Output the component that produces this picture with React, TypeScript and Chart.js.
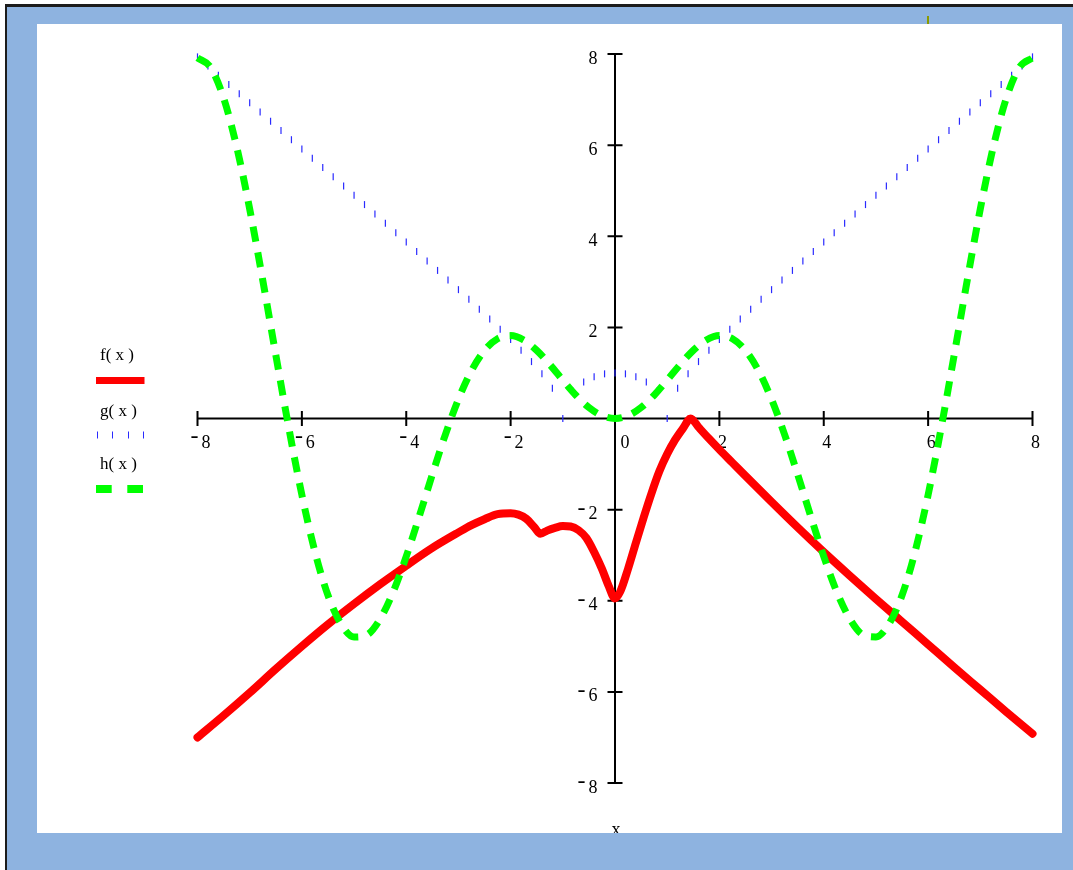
import React, { useEffect, useRef } from "react";
import { Chart, registerables } from "chart.js";

Chart.register(...registerables);

// ---- tick values / labels ----
const X_TICKS = [-8, -6, -4, -2, 0, 2, 4, 6, 8];
const X_TICK_LABELS = ["-8", "-6", "-4", "-2", "0", "2", "4", "6", "8"];
const Y_TICKS = [-8, -6, -4, -2, 2, 4, 6, 8];
const Y_TICK_LABELS = ["-8", "-6", "-4", "-2", "2", "4", "6", "8"];
const SERIES_LABELS = ["f( x )", "g( x )", "h( x )"];
const AXIS_TITLE = "x";

// ---- f(x): red solid ----
const F_X = [
  -8, -7.5, -7, -6.5, -6, -5.5, -5, -4.5, -4, -3.5, -3, -2.75, -2.5, -2.25, -2,
  -1.85, -1.7, -1.55, -1.43, -1.3, -1.15, -1, -0.85, -0.7, -0.55, -0.4, -0.25,
  -0.12, 0, 0.1, 0.25, 0.4, 0.55, 0.7, 0.85, 1, 1.15, 1.3, 1.45, 1.6, 1.8, 2,
  2.25, 2.5, 3, 3.5, 4, 4.5, 5, 5.5, 6, 6.5, 7, 7.5, 8,
];
const F_Y = [
  -7.0, -6.52, -6.02, -5.5, -5.0, -4.52, -4.07, -3.64, -3.23, -2.84, -2.5,
  -2.34, -2.21, -2.1, -2.08, -2.11, -2.2, -2.38, -2.53, -2.46, -2.4, -2.36,
  -2.37, -2.45, -2.62, -2.93, -3.3, -3.68, -3.95, -3.8, -3.3, -2.73, -2.17,
  -1.64, -1.16, -0.78, -0.47, -0.22, 0.0, -0.19, -0.44, -0.68, -0.97, -1.26,
  -1.83, -2.39, -2.93, -3.45, -3.96, -4.46, -4.96, -5.46, -5.95, -6.44, -6.92,
];

// ---- g(x): blue dotted ----
const G_X = [
  -8, -7.8, -7.6, -7.4, -7.2, -7, -6.8, -6.6, -6.4, -6.2, -6, -5.8, -5.6, -5.4,
  -5.2, -5, -4.8, -4.6, -4.4, -4.2, -4, -3.8, -3.6, -3.4, -3.2, -3, -2.8, -2.6,
  -2.4, -2.2, -2, -1.8, -1.6, -1.4, -1.2, -1, -0.8, -0.6, -0.4, -0.2, 0, 0.2,
  0.4, 0.6, 0.8, 1, 1.2, 1.4, 1.6, 1.8, 2, 2.2, 2.4, 2.6, 2.8, 3, 3.2, 3.4, 3.6,
  3.8, 4, 4.2, 4.4, 4.6, 4.8, 5, 5.2, 5.4, 5.6, 5.8, 6, 6.2, 6.4, 6.6, 6.8, 7,
  7.2, 7.4, 7.6, 7.8, 8,
];
const G_Y = [
  7.937, 7.736, 7.534, 7.332, 7.13, 6.928, 6.726, 6.524, 6.321, 6.119, 5.916,
  5.713, 5.51, 5.307, 5.103, 4.899, 4.695, 4.49, 4.285, 4.079, 3.873, 3.666,
  3.458, 3.25, 3.04, 2.828, 2.615, 2.4, 2.182, 1.96, 1.732, 1.497, 1.249, 0.98,
  0.663, 0, 0.6, 0.8, 0.917, 0.98, 1.0, 0.98, 0.917, 0.8, 0.6, 0, 0.663, 0.98,
  1.249, 1.497, 1.732, 1.96, 2.182, 2.4, 2.615, 2.828, 3.04, 3.25, 3.458, 3.666,
  3.873, 4.079, 4.285, 4.49, 4.695, 4.899, 5.103, 5.307, 5.51, 5.713, 5.916,
  6.119, 6.321, 6.524, 6.726, 6.928, 7.13, 7.332, 7.534, 7.736, 7.937,
];

// ---- h(x): green dashed ----
const H_X = [
  -8, -7.75, -7.5, -7.25, -7, -6.75, -6.5, -6.25, -6, -5.75, -5.5, -5.25, -5,
  -4.75, -4.5, -4.25, -4, -3.75, -3.5, -3.25, -3, -2.75, -2.5, -2.25, -2, -1.75,
  -1.5, -1.25, -1, -0.75, -0.5, -0.25, 0, 0.25, 0.5, 0.75, 1, 1.25, 1.5, 1.75, 2,
  2.25, 2.5, 2.75, 3, 3.25, 3.5, 3.75, 4, 4.25, 4.5, 4.75, 5, 5.25, 5.5, 5.75, 6,
  6.25, 6.5, 6.75, 7, 7.25, 7.5, 7.75, 8,
];
const H_Y = [
  7.915, 7.708, 7.035, 5.967, 4.599, 3.038, 1.398, -0.208, -1.676, -2.923,
  -3.88, -4.509, -4.795, -4.747, -4.399, -3.804, -3.027, -2.144, -1.228, -0.352,
  0.423, 1.05, 1.496, 1.751, 1.819, 1.722, 1.496, 1.186, 0.841, 0.511, 0.24,
  0.062, 0, 0.062, 0.24, 0.511, 0.841, 1.186, 1.496, 1.722, 1.819, 1.751, 1.496,
  1.05, 0.423, -0.352, -1.228, -2.144, -3.027, -3.804, -4.399, -4.747, -4.795,
  -4.509, -3.88, -2.923, -1.676, -0.208, 1.398, 3.038, 4.599, 5.967, 7.035,
  7.708, 7.915,
];

const RED = "#ff0000";
const BLUE = "#2a2aff";
const GREEN = "#00ff00";
const FONT = '18px "Liberation Serif", "Times New Roman", serif';
const MINUS_FONT = '24px "Liberation Serif", "Times New Roman", serif';
const LEGEND_FONT = '17px "Liberation Serif", "Times New Roman", serif';
const MINUS_GAP = 3;

function labelWidth(ctx: CanvasRenderingContext2D, label: string): number {
  if (label.startsWith("-")) {
    ctx.font = MINUS_FONT;
    const wm = ctx.measureText("-").width;
    ctx.font = FONT;
    return wm + MINUS_GAP + ctx.measureText(label.slice(1)).width;
  }
  ctx.font = FONT;
  return ctx.measureText(label).width;
}

function drawLabel(ctx: CanvasRenderingContext2D, label: string, left: number, baseline: number) {
  if (label.startsWith("-")) {
    ctx.font = MINUS_FONT;
    ctx.fillText("-", left, baseline - 4.5);
    const wm = ctx.measureText("-").width;
    ctx.font = FONT;
    ctx.fillText(label.slice(1), left + wm + MINUS_GAP, baseline);
  } else {
    ctx.font = FONT;
    ctx.fillText(label, left, baseline);
  }
}

const axesPlugin = {
  id: "mathcadAxes",
  beforeDatasetsDraw(chart: any) {
    const ctx: CanvasRenderingContext2D = chart.ctx;
    const xs = chart.scales.x;
    const ys = chart.scales.y;
    const x0 = xs.getPixelForValue(0);
    const y0 = ys.getPixelForValue(0);
    ctx.save();
    ctx.strokeStyle = "#000";
    ctx.lineWidth = 2;
    ctx.beginPath();
    ctx.moveTo(xs.getPixelForValue(X_TICKS[0]), y0);
    ctx.lineTo(xs.getPixelForValue(X_TICKS[X_TICKS.length - 1]), y0);
    ctx.moveTo(x0, ys.getPixelForValue(Y_TICKS[Y_TICKS.length - 1]));
    ctx.lineTo(x0, ys.getPixelForValue(Y_TICKS[0]));
    X_TICKS.forEach((v) => {
      if (v === 0) return;
      const px = xs.getPixelForValue(v);
      ctx.moveTo(px, y0 - 7.5);
      ctx.lineTo(px, y0 + 7.5);
    });
    Y_TICKS.forEach((v) => {
      const py = ys.getPixelForValue(v);
      ctx.moveTo(x0 - 7.5, py);
      ctx.lineTo(x0 + 7.5, py);
    });
    ctx.stroke();

    ctx.fillStyle = "#000";
    ctx.textAlign = "left";
    ctx.textBaseline = "alphabetic";
    X_TICKS.forEach((v, i) => {
      const label = X_TICK_LABELS[i];
      const px = xs.getPixelForValue(v);
      const cx = v === 0 ? px + 10 : px + 3;
      const w = labelWidth(ctx, label);
      drawLabel(ctx, label, cx - w / 2, y0 + 29);
    });
    Y_TICKS.forEach((v, i) => {
      const label = Y_TICK_LABELS[i];
      const py = ys.getPixelForValue(v);
      const w = labelWidth(ctx, label);
      drawLabel(ctx, label, x0 - 17.5 - w, py + 9.5);
    });
    // axis title (partly clipped by the frame, as in the reference)
    ctx.font = FONT;
    ctx.textAlign = "center";
    ctx.fillText(AXIS_TITLE, x0 + 1, chart.height + 2);
    ctx.restore();
  },
};

const legendPlugin = {
  id: "mathcadLegend",
  afterDraw(chart: any) {
    const ctx: CanvasRenderingContext2D = chart.ctx;
    ctx.save();
    ctx.fillStyle = "#000";
    ctx.font = LEGEND_FONT;
    ctx.textAlign = "left";
    ctx.textBaseline = "alphabetic";
    ctx.fillText(SERIES_LABELS[0], 63, 336);
    ctx.fillText(SERIES_LABELS[1], 63, 391.5);
    ctx.fillText(SERIES_LABELS[2], 63, 445);

    // f swatch
    ctx.strokeStyle = RED;
    ctx.lineWidth = 7;
    ctx.lineCap = "butt";
    ctx.beginPath();
    ctx.moveTo(59, 356.5);
    ctx.lineTo(107.5, 356.5);
    ctx.stroke();

    // g swatch
    ctx.strokeStyle = BLUE;
    ctx.lineWidth = 1;
    ctx.beginPath();
    [60.5, 75.5, 91.5, 106.5].forEach((x) => {
      ctx.moveTo(x, 407.5);
      ctx.lineTo(x, 414.5);
    });
    ctx.stroke();

    // h swatch
    ctx.strokeStyle = GREEN;
    ctx.lineWidth = 8;
    ctx.beginPath();
    ctx.moveTo(59, 465);
    ctx.lineTo(74.7, 465);
    ctx.moveTo(90.3, 465);
    ctx.lineTo(106, 465);
    ctx.stroke();
    ctx.restore();
  },
};

export default function App() {
  const canvasRef = useRef<HTMLCanvasElement | null>(null);

  useEffect(() => {
    const canvas = canvasRef.current;
    if (!canvas) return;
    const chart = new Chart(canvas, {
      type: "line",
      data: {
        datasets: [
          {
            label: SERIES_LABELS[0],
            data: F_X.map((x, i) => ({ x, y: F_Y[i] })),
            borderColor: RED,
            borderWidth: 8,
            pointRadius: 0,
            cubicInterpolationMode: "monotone",
            borderCapStyle: "round",
            borderJoinStyle: "round",
            order: 3,
            clip: false,
          } as any,
          {
            label: SERIES_LABELS[1],
            data: G_X.map((x, i) => ({ x, y: G_Y[i] })),
            showLine: false,
            pointStyle: "line",
            pointRotation: 90,
            pointRadius: 3.5,
            pointBorderWidth: 1.2,
            pointBorderColor: BLUE,
            pointBackgroundColor: BLUE,
            order: 2,
            clip: false,
          } as any,
          {
            label: SERIES_LABELS[2],
            data: H_X.map((x, i) => ({ x, y: H_Y[i] })),
            borderColor: GREEN,
            borderWidth: 7,
            borderDash: [15, 11],
            pointRadius: 0,
            cubicInterpolationMode: "monotone",
            order: 1,
            clip: false,
          } as any,
        ],
      },
      options: {
        responsive: false,
        animation: false,
        devicePixelRatio: 1,
        events: [],
        layout: { padding: { left: 160.5, right: 29.5, top: 30, bottom: 50 } },
        scales: {
          x: { type: "linear", min: -8, max: 8, display: false },
          y: { type: "linear", min: -8, max: 8, display: false },
        },
        plugins: {
          legend: { display: false },
          tooltip: { enabled: false },
        },
      },
      plugins: [axesPlugin, legendPlugin],
    });
    return () => chart.destroy();
  }, []);

  return (
    <div
      style={{
        position: "fixed",
        left: 0,
        top: 0,
        width: 1073,
        height: 870,
        overflow: "hidden",
        background: "#fff",
      }}
    >
      <div
        style={{
          position: "absolute",
          left: 5,
          top: 4,
          width: 1068,
          height: 866,
          boxSizing: "border-box",
          borderTop: "3px solid #1c1c1c",
          borderLeft: "2px solid #1c1c1c",
          background: "#8eb3e0",
        }}
      />
      <div
        style={{
          position: "absolute",
          left: 927,
          top: 16,
          width: 2,
          height: 8,
          background: "#8a9a00",
        }}
      />
      <canvas
        ref={canvasRef}
        width={1025}
        height={809}
        style={{
          position: "absolute",
          left: 37,
          top: 24,
          width: 1025,
          height: 809,
          background: "#fff",
          display: "block",
        }}
      />
    </div>
  );
}
